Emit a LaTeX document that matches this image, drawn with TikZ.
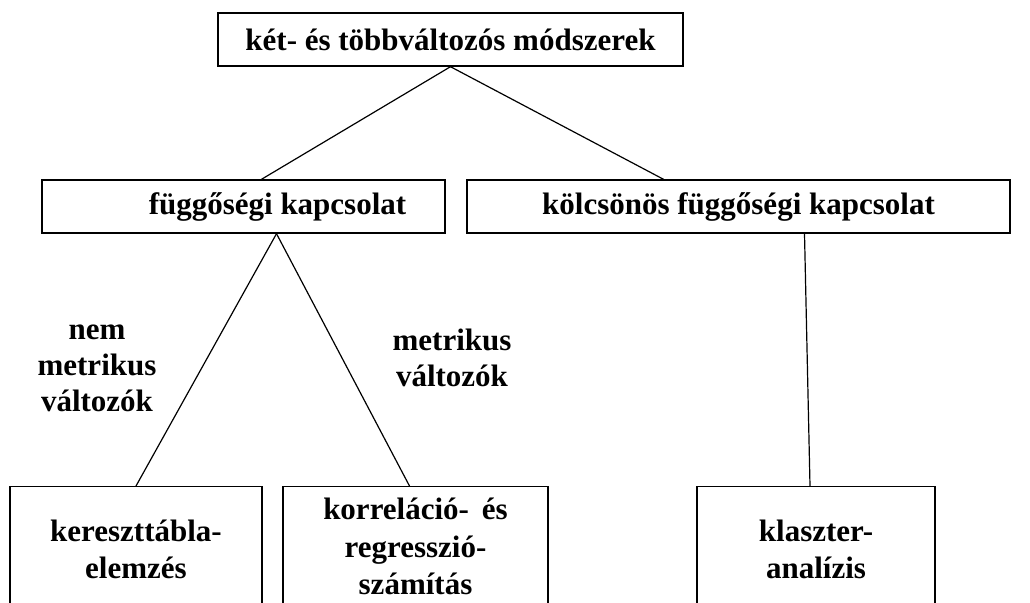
\documentclass[tikz,border=0pt]{standalone}
\usepackage{fontspec}
\setmainfont{Liberation Serif}
\usetikzlibrary{calc}

\begin{document}
\begin{tikzpicture}[x=1pt,y=-1pt,
    catbox/.style={draw, line width=1.4pt, inner sep=0pt, align=center,
      font=\fontsize{31}{37.5}\selectfont\bfseries},
    leafbox/.style={catbox, anchor=north, minimum height=125},
    boxtext/.style={inner sep=0pt, font=\fontsize{31}{37.5}\selectfont\bfseries},
    branch/.style={line width=1.2pt},
    branchlabel/.style={align=center, font=\fontsize{31}{36}\selectfont\bfseries}]
  \clip (0,0) rectangle (1030,602);
  \fill[white] (0,0) rectangle (1030,602);

  % upper levels
  \node[catbox, minimum width=465, minimum height=53] (methods) at (450.5,39.5)
    {két- és többváltozós módszerek};
  \node[catbox, minimum width=403, minimum height=53] (dep) at (243.5,206.5) {};
  \node[boxtext] (deptext) at (277.5,206.5) {függőségi kapcsolat};
  \node[catbox, minimum width=543, minimum height=53] (interdep) at (738.5,206.5)
    {kölcsönös függőségi kapcsolat};

  % leaves, open at the bottom edge
  \node[leafbox, minimum width=252] (cross) at (136,486)
    {kereszttábla-\\elemzés};
  \node[leafbox, minimum width=265, minimum height=120] (correg) at (415.5,486)
    {korreláció-\, és\\regresszió-\\számítás};
  \node[leafbox, minimum width=238] (cluster) at (816,486)
    {klaszter-\\analízis};

  % branch labels
  \node[branchlabel] (nonmetric) at (97,368) {nem\\metrikus\\változók};
  \node[branchlabel] (metric) at (452,358) {metrikus\\változók};

  % connectors
  \draw[branch] (methods.south) -- ($(dep.north)+(18,0)$);
  \draw[branch] (methods.south) -- ($(interdep.north)+(-75,0)$);
  \draw[branch] ($(dep.south)+(33,0)$) -- (cross.north);
  \draw[branch] ($(dep.south)+(33,0)$) -- ($(correg.north)+(-6,0)$);
  \draw[branch] ($(interdep.south)+(66,0)$) -- ($(cluster.north)+(-6,0)$);
\end{tikzpicture}
\end{document}
